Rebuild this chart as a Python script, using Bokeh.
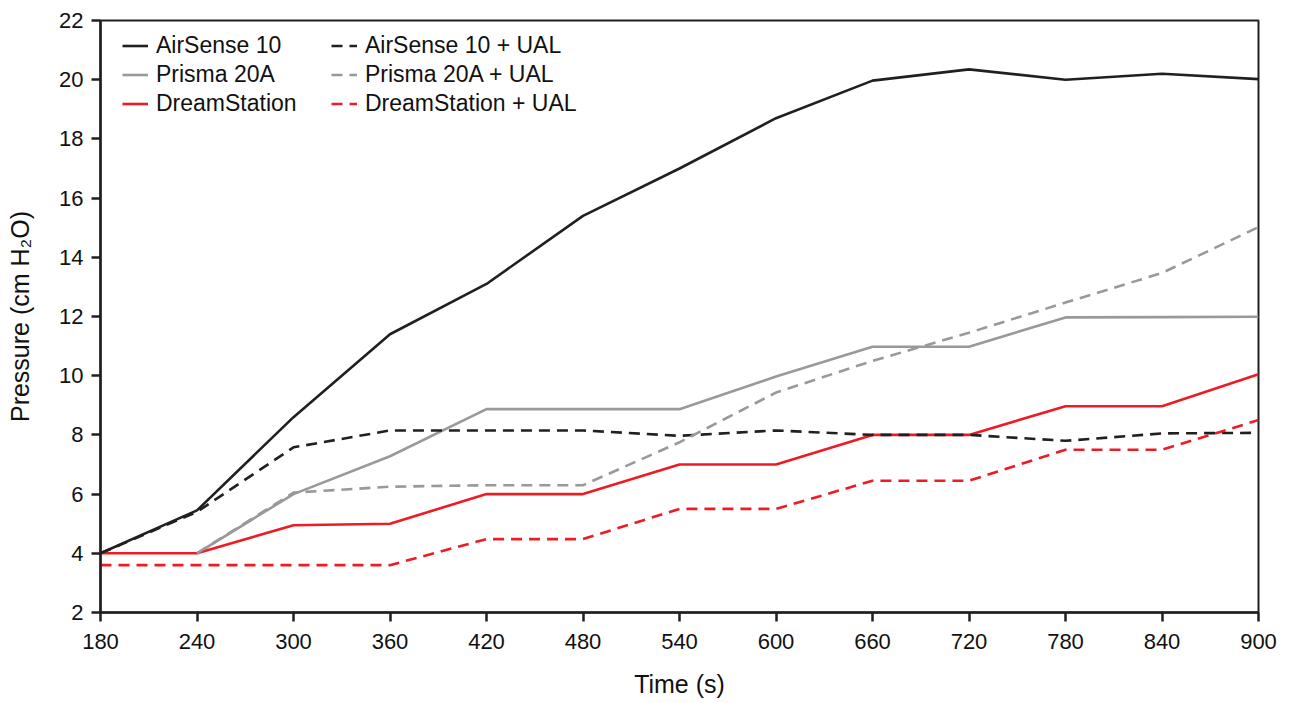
from bokeh.plotting import figure
from bokeh.models import Legend, LegendItem, FixedTicker, Range1d
from bokeh.embed import file_html
from bokeh.resources import INLINE

time_s = [180, 240, 300, 360, 420, 480, 540, 600, 660, 720, 780, 840, 900]
time_s_prisma = [240, 300, 360, 420, 480, 540, 600, 660, 720, 780, 840, 900]

airsense = [4.0, 5.45, 8.6, 11.4, 13.1, 15.4, 17.0, 18.7, 19.97, 20.35, 20.0, 20.2, 20.02]
airsense_ual = [4.0, 5.4, 7.58, 8.15, 8.15, 8.15, 7.97, 8.15, 8.0, 8.0, 7.8, 8.05, 8.07]
prisma = [4.0, 6.0, 7.28, 8.87, 8.87, 8.87, 9.97, 10.98, 10.98, 11.97, 11.98, 11.99]
prisma_ual = [4.0, 6.05, 6.25, 6.3, 6.3, 7.75, 9.43, 10.5, 11.45, 12.47, 13.47, 15.02]
dreamstation = [4.0, 4.0, 4.95, 5.0, 6.0, 6.0, 7.0, 7.0, 8.0, 8.0, 8.97, 8.97, 10.05]
dreamstation_ual = [3.6, 3.6, 3.6, 3.6, 4.48, 4.48, 5.5, 5.5, 6.45, 6.45, 7.5, 7.5, 8.5]

x_ticks = [180, 240, 300, 360, 420, 480, 540, 600, 660, 720, 780, 840, 900]
y_ticks = [2, 4, 6, 8, 10, 12, 14, 16, 18, 20, 22]

BLACK = "#231f20"
GRAY = "#999999"
RED = "#ed1c24"
FONT = "Liberation Sans"

p = figure(width=1284, height=700, output_backend="svg", toolbar_location=None,
           x_range=Range1d(180, 900), y_range=Range1d(2, 22),
           min_border_left=100, min_border_right=26, min_border_top=20, min_border_bottom=87)

p.xgrid.visible = False
p.ygrid.visible = False
p.outline_line_color = BLACK
p.outline_line_width = 2
p.outline_line_alpha = 1.0

DASH = "11 7"
W = 2.6
r1 = p.line(time_s, airsense, line_color=BLACK, line_width=W)
r2 = p.line(time_s_prisma, prisma, line_color=GRAY, line_width=W)
r3 = p.line(time_s, dreamstation, line_color=RED, line_width=W)
r4 = p.line(time_s, airsense_ual, line_color=BLACK, line_width=W, line_dash=DASH)
r5 = p.line(time_s_prisma, prisma_ual, line_color=GRAY, line_width=W, line_dash=DASH)
r6 = p.line(time_s, dreamstation_ual, line_color=RED, line_width=W, line_dash=DASH)

for ax in (p.xaxis[0], p.yaxis[0]):
    ax.axis_line_color = BLACK
    ax.axis_line_width = 2.5
    ax.major_tick_line_color = BLACK
    ax.major_tick_line_width = 2.5
    ax.major_tick_out = 9
    ax.major_tick_in = 0
    ax.minor_tick_line_color = None
    ax.major_label_text_font = FONT
    ax.major_label_text_font_size = "22px"
    ax.major_label_text_color = "#111111"
    ax.axis_label_text_font = FONT
    ax.axis_label_text_font_size = "25px"
    ax.axis_label_text_font_style = "normal"
    ax.axis_label_text_color = "#111111"

p.xaxis[0].ticker = FixedTicker(ticks=x_ticks)
p.yaxis[0].ticker = FixedTicker(ticks=y_ticks)
p.xaxis[0].axis_label = "Time (s)"
p.yaxis[0].axis_label = "Pressure (cm H\u2082O)"
p.xaxis[0].major_label_standoff = 12
p.yaxis[0].major_label_standoff = 8
p.xaxis[0].axis_label_standoff = 18
p.yaxis[0].axis_label_standoff = 22

legend = Legend(items=[
    LegendItem(label="AirSense 10", renderers=[r1]),
    LegendItem(label="Prisma 20A", renderers=[r2]),
    LegendItem(label="DreamStation", renderers=[r3]),
    LegendItem(label="AirSense 10 + UAL", renderers=[r4]),
    LegendItem(label="Prisma 20A + UAL", renderers=[r5]),
    LegendItem(label="DreamStation + UAL", renderers=[r6]),
], ncols=2, location=(22, 495))
legend.border_line_color = None
legend.background_fill_alpha = 0
legend.label_text_font = FONT
legend.label_text_font_size = "23px"
legend.label_text_color = "#111111"
legend.glyph_width = 26
legend.glyph_height = 23
legend.label_height = 23
legend.label_width = 173
legend.spacing = 2
legend.padding = 8
legend.margin = 0
legend.label_standoff = 8
p.add_layout(legend)

open("out.html", "w").write(file_html(p, INLINE))
